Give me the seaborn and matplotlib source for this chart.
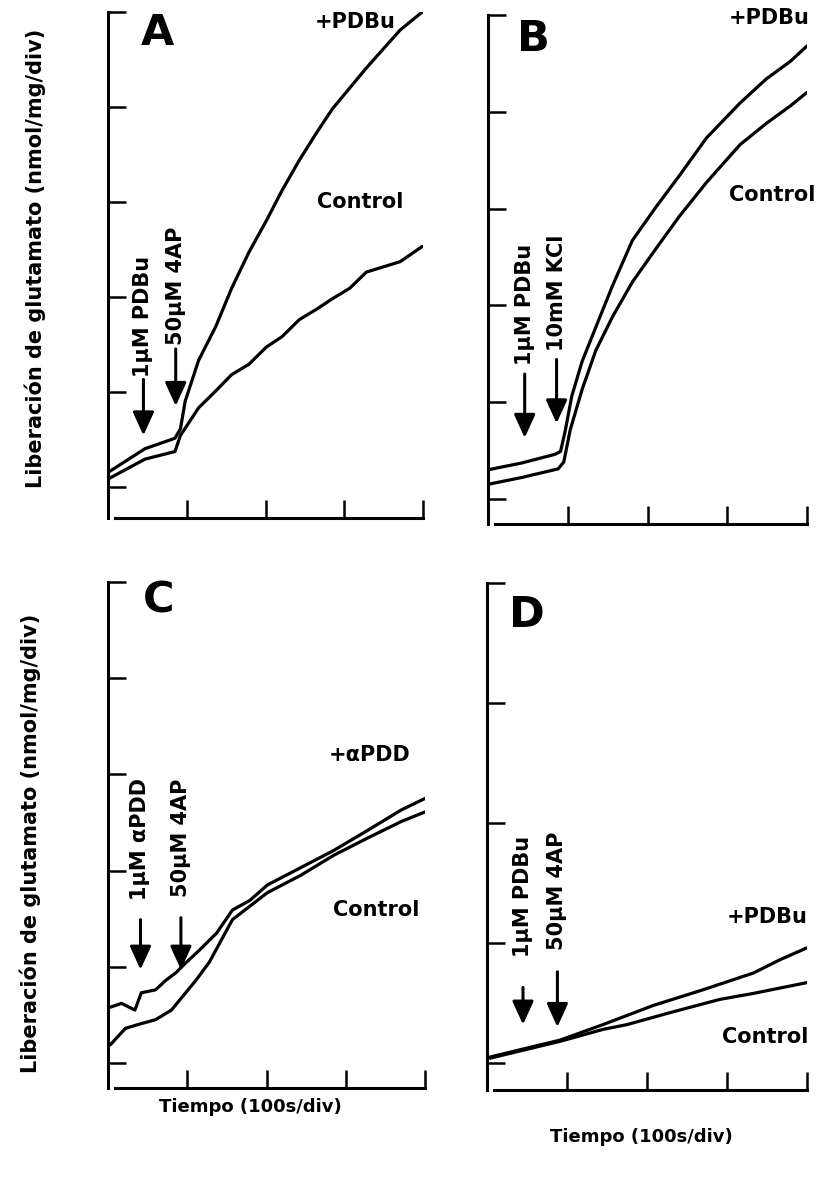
import matplotlib
matplotlib.use("Agg")
import matplotlib.pyplot as plt
import seaborn as sns

# --- data (time in s, release in divisions) ---
# panel A: 1uM PDBu then 50uM 4AP
a_pdbu_t = [0, 47, 85, 92, 98, 115, 137, 157, 179, 201, 221, 243, 265, 285, 328, 371, 399]
a_pdbu_v = [0.15, 0.40, 0.51, 0.61, 0.90, 1.33, 1.69, 2.09, 2.47, 2.80, 3.12, 3.44, 3.73, 3.98, 4.41, 4.81, 5.00]
a_ctrl_t = [0, 47, 85, 92, 115, 137, 157, 179, 201, 221, 243, 265, 285, 307, 328, 371, 399]
a_ctrl_v = [0.08, 0.29, 0.37, 0.54, 0.83, 1.01, 1.18, 1.29, 1.47, 1.58, 1.76, 1.87, 1.98, 2.09, 2.26, 2.37, 2.53]

# panel B: 1uM PDBu then 10mM KCl
b_pdbu_t = [0, 42, 84, 91, 97, 105, 118, 135, 156, 181, 211, 240, 274, 316, 349, 379, 400]
b_pdbu_v = [0.30, 0.37, 0.46, 0.49, 0.71, 1.06, 1.42, 1.77, 2.20, 2.67, 3.02, 3.34, 3.73, 4.09, 4.34, 4.52, 4.68]
b_ctrl_t = [0, 42, 88, 95, 103, 118, 135, 156, 181, 211, 240, 274, 316, 349, 379, 400]
b_ctrl_v = [0.15, 0.22, 0.31, 0.38, 0.71, 1.13, 1.53, 1.88, 2.24, 2.59, 2.92, 3.27, 3.66, 3.88, 4.06, 4.20]

# panel C: 1uM aPDD then 50uM 4AP
c_apdd_t = [3, 17, 34, 42, 60, 73, 86, 98, 115, 137, 157, 179, 201, 243, 285, 328, 370, 400]
c_apdd_v = [0.58, 0.62, 0.55, 0.73, 0.76, 0.86, 0.94, 1.04, 1.17, 1.35, 1.59, 1.69, 1.85, 2.03, 2.21, 2.42, 2.63, 2.75]
c_ctrl_t = [3, 22, 38, 60, 80, 98, 111, 128, 157, 201, 243, 285, 328, 370, 400]
c_ctrl_v = [0.19, 0.36, 0.40, 0.45, 0.55, 0.73, 0.86, 1.05, 1.49, 1.77, 1.95, 2.16, 2.34, 2.51, 2.61]

# panel D: 1uM PDBu then 50uM 4AP
d_pdbu_t = [4, 41, 91, 145, 208, 270, 333, 366, 400]
d_pdbu_v = [0.05, 0.11, 0.19, 0.32, 0.48, 0.61, 0.75, 0.86, 0.96]
d_ctrl_t = [4, 41, 91, 145, 175, 229, 291, 333, 400]
d_ctrl_v = [0.04, 0.10, 0.18, 0.28, 0.32, 0.42, 0.53, 0.58, 0.67]

# arrows: (time, text bottom, arrow top, arrow tip, label)
a_arrows = [(45, 1.15, 1.13, 0.54, "1\u03bcM PDBu"), (86, 1.49, 1.45, 0.85, "50\u03bcM 4AP")]
b_arrows = [(46, 1.38, 1.29, 0.63, "1\u03bcM PDBu"), (86, 1.53, 1.44, 0.78, "10mM KCl")]
c_arrows = [(41, 1.69, 1.49, 0.97, "1\u03bcM \u03b1PDD"), (92, 1.73, 1.51, 0.97, "50\u03bcM 4AP")]
d_arrows = [(45, 0.88, 0.63, 0.32, "1\u03bcM PDBu"), (88, 0.94, 0.76, 0.30, "50\u03bcM 4AP")]

sns.set_style("ticks")
plt.rcParams['font.family'] = ['DejaVu Sans']
plt.rcParams['font.weight'] = 'bold'
plt.rcParams['text.color'] = 'black'

W, H = 823, 1179
fig = plt.figure(figsize=(W / 100, H / 100), dpi=100)


def px_axes(left, right, top, bottom):
    return fig.add_axes([left / W, 1 - bottom / H, (right - left) / W, (bottom - top) / H])


def style_axes(ax, ymin, ymax):
    ax.set_xlim(0, 400)
    ax.set_ylim(ymin, ymax)
    ax.set_xticks([100, 200, 300, 400])
    ax.set_yticks(range(0, ymax + 1))
    ax.set_xticklabels([])
    ax.set_yticklabels([])
    ax.tick_params(direction='in', length=13, width=1.8, color='black')
    for side in ['top', 'right']:
        ax.spines[side].set_visible(False)
    for side in ['left', 'bottom']:
        ax.spines[side].set_linewidth(2.2)
        ax.spines[side].set_color('black')
    ax.spines['bottom'].set_bounds(9, 400)
    ax.set_xlabel('')
    ax.set_ylabel('')


def draw_trace(ax, t, v):
    sns.lineplot(x=t, y=v, ax=ax, color='black', linewidth=2.3, sort=False,
                 estimator=None, legend=False)


def draw_arrows(ax, arrows):
    for t, txt_y, top, tip, label in arrows:
        ax.annotate('', xy=(t, tip), xytext=(t, top),
                    arrowprops=dict(arrowstyle='-|>,head_length=0.55,head_width=0.25',
                                    lw=2.2, color='black', mutation_scale=26,
                                    shrinkA=0, shrinkB=0))
        ax.text(t, txt_y, label, rotation=90, ha='center', va='bottom',
                fontsize=15, fontweight='bold', color='black')


def label(ax, x, y, s, size=15):
    ax.text(x, y, s, fontsize=size, fontweight='bold', ha='center', va='center', color='black')


axA = px_axes(108, 423, 12, 518)
draw_trace(axA, a_pdbu_t, a_pdbu_v)
draw_trace(axA, a_ctrl_t, a_ctrl_v)
style_axes(axA, -0.33, 5)
draw_arrows(axA, a_arrows)
label(axA, 63, 4.78, "A", 31)
label(axA, 314, 4.89, "+PDBu")
label(axA, 320, 3.0, "Control")

axB = px_axes(488, 807, 15, 524)
draw_trace(axB, b_pdbu_t, b_pdbu_v)
draw_trace(axB, b_ctrl_t, b_ctrl_v)
style_axes(axB, -0.26, 5)
draw_arrows(axB, b_arrows)
label(axB, 57, 4.75, "B", 31)
label(axB, 353, 4.97, "+PDBu")
label(axB, 356, 3.14, "Control")

axC = px_axes(108, 425, 582, 1088)
draw_trace(axC, c_apdd_t, c_apdd_v)
draw_trace(axC, c_ctrl_t, c_ctrl_v)
style_axes(axC, -0.26, 5)
draw_arrows(axC, c_arrows)
label(axC, 64, 4.81, "C", 31)
label(axC, 330, 3.20, "+\u03b1PDD")
label(axC, 338, 1.59, "Control")

axD = px_axes(487, 807, 583, 1090)
draw_trace(axD, d_pdbu_t, d_pdbu_v)
draw_trace(axD, d_ctrl_t, d_ctrl_v)
style_axes(axD, -0.225, 4)
draw_arrows(axD, d_arrows)
label(axD, 50, 3.73, "D", 31)
label(axD, 350, 1.22, "+PDBu")
label(axD, 348, 0.22, "Control")

ylab = "Liberaci\u00f3n de glutamato (nmol/mg/div)"
fig.text(35 / W, 1 - 258 / H, ylab, rotation=90, ha='center', va='center',
         fontsize=15, fontweight='bold', color='black')
fig.text(30 / W, 1 - 843 / H, ylab, rotation=90, ha='center', va='center',
         fontsize=15, fontweight='bold', color='black')
fig.text(250 / W, 1 - 1107 / H, "Tiempo (100s/div)", ha='center', va='center',
         fontsize=13, fontweight='bold', color='black')
fig.text(641 / W, 1 - 1137 / H, "Tiempo (100s/div)", ha='center', va='center',
         fontsize=13, fontweight='bold', color='black')

fig.savefig("out.png", dpi=100, facecolor='white')
